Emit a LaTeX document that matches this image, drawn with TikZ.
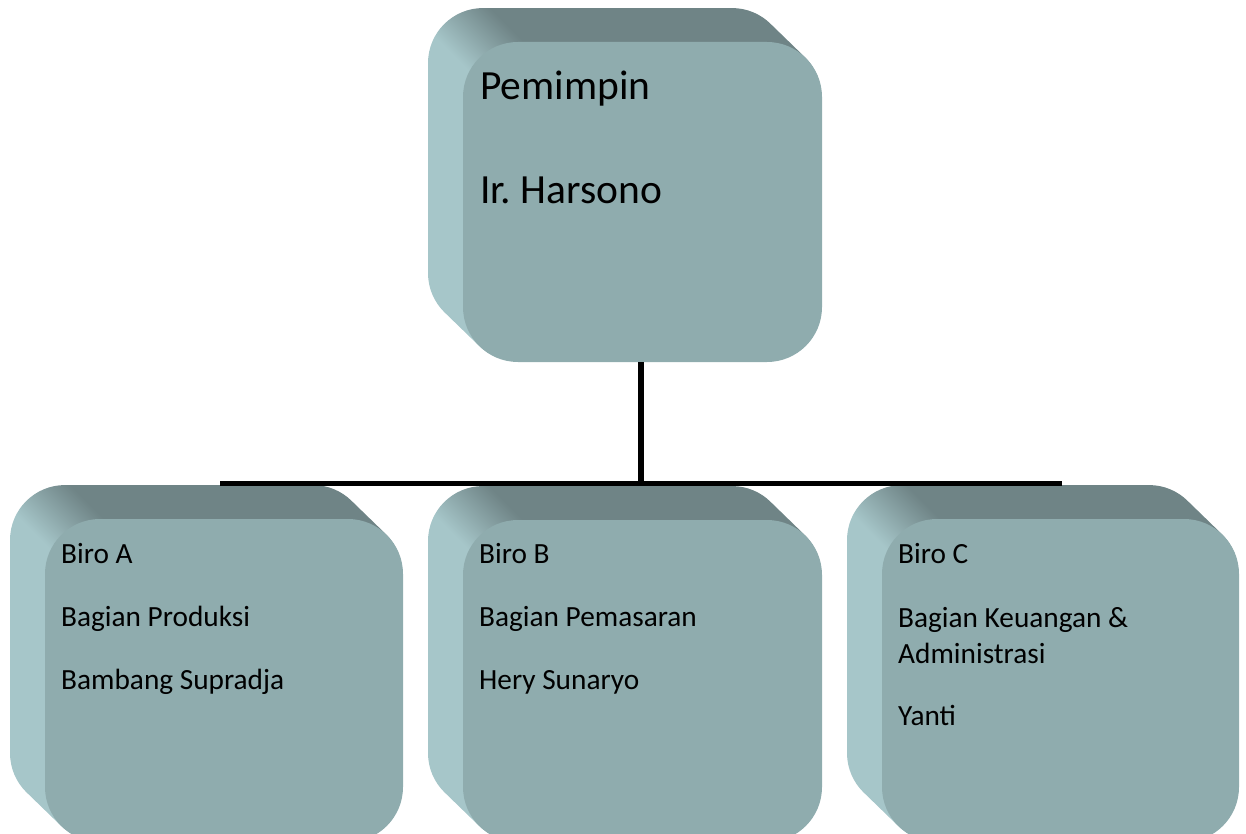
\documentclass[tikz,border=0pt]{standalone}
\usepackage{fontspec}
\setmainfont{Carlito}
\frenchspacing
\definecolor{frontc}{RGB}{143,172,174}
\definecolor{sidetop}{RGB}{111,132,134}
\definecolor{sidelight}{RGB}{166,198,201}
\pgfdeclarehorizontalshading{bevelshade}{100bp}{color(0bp)=(sidelight); color(46bp)=(sidelight); color(54bp)=(sidetop); color(100bp)=(sidetop)}
\tikzset{
  frontface/.style={draw=none, fill=frontc, rounded corners=55pt, inner sep=0pt, outer sep=0pt, anchor=north west},
  bigtxt/.style={anchor=base west, inner sep=0pt, font=\fontsize{41.5}{50}\selectfont},
  smalltxt/.style={anchor=base west, inner sep=0pt, font=\fontsize{29.3}{35}\selectfont},
  busline/.style={draw=black, line width=5.5pt}
}
% #1 name, #2 x0, #3 y0, #4 width, #5 height (front face, screen px)
\newcommand{\bevelbox}[5]{%
  \shade[shading=bevelshade, shading angle=45, rounded corners=55pt]
    \foreach \k in {1,...,35} { (#2-\k, #3-\k*0.97) rectangle +(#4,#5) };
  \node[frontface, minimum width=#4pt, minimum height=#5pt] (#1) at (#2,#3) {};
}
\begin{document}
\begin{tikzpicture}[x=1pt, y=-1pt]
\useasboundingbox (0,0) rectangle (1246,834);
\clip (0,0) rectangle (1246,834);
\bevelbox{top}{463}{42}{359}{320}
\bevelbox{biroA}{45}{519}{358}{323}
\bevelbox{biroB}{463}{520}{359}{322}
\bevelbox{biroC}{882}{519}{357}{323}

\node[bigtxt] (t1) at (480,100) {Pemimpin};
\node[bigtxt] (t2) at (480,204) {Ir. Harsono};

\node[smalltxt] (a1) at (61,563) {Biro A};
\node[smalltxt] (a2) at (61,626) {Bagian Produksi};
\node[smalltxt] (a3) at (61,689) {Bambang Supradja};

\node[smalltxt] (b1) at (479,563) {Biro B};
\node[smalltxt] (b2) at (479,626) {Bagian Pemasaran};
\node[smalltxt] (b3) at (479,689) {Hery Sunaryo};

\node[smalltxt] (c1) at (898,563) {Biro C};
\node[smalltxt] (c2) at (898,627) {Bagian Keuangan \&};
\node[smalltxt] (c3) at (898,663) {Administrasi};
\node[smalltxt] (c4) at (898,725) {Yanti};

\coordinate (busL) at (220,483.5);
\coordinate (busR) at (1062,483.5);
\coordinate (busM) at (641,483.5);
\draw[busline] (busL) -- (busR);
\draw[draw=black, line width=6pt] (top.south -| busM) -- (busM);
\end{tikzpicture}
\end{document}
